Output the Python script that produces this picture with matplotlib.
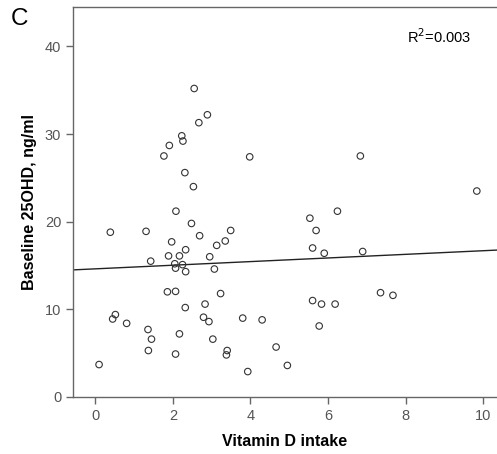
import numpy as np
import matplotlib.pyplot as plt

plt.rcParams['font.family'] = ['Liberation Sans', 'DejaVu Sans']

# Vitamin D intake vs baseline 25OHD
vit_d = [2.55, 2.89, 2.67, 2.23, 2.26, 1.91, 1.77, 3.98, 2.31, 2.53,
         6.83, 9.83,
         2.08, 2.48, 0.39, 1.31, 3.49, 2.69, 1.97, 3.35, 3.13, 2.33,
         1.89, 2.17, 2.95, 1.43, 2.05, 2.25, 2.07, 2.33, 3.07, 1.86,
         2.07, 3.23, 2.32, 2.83, 0.52, 0.45, 2.79, 2.93, 3.80, 4.30,
         0.81, 1.36, 2.17, 1.45, 3.03, 4.66, 1.37, 3.40, 3.38, 2.07,
         0.10, 3.93, 4.95,
         6.24, 5.53, 5.69, 5.60, 5.90, 6.89, 5.60, 5.83, 6.18, 7.35,
         7.67, 5.77]
ohd = [35.2, 32.2, 31.3, 29.8, 29.2, 28.7, 27.5, 27.4, 25.6, 24.0,
       27.5, 23.5,
       21.2, 19.8, 18.8, 18.9, 19.0, 18.4, 17.7, 17.8, 17.3, 16.8,
       16.1, 16.1, 16.0, 15.5, 15.2, 15.1, 14.7, 14.3, 14.6, 12.0,
       12.05, 11.8, 10.2, 10.6, 9.4, 8.9, 9.1, 8.6, 9.0, 8.8,
       8.4, 7.7, 7.2, 6.6, 6.6, 5.7, 5.3, 5.3, 4.8, 4.9,
       3.7, 2.9, 3.6,
       21.2, 20.4, 19.0, 17.0, 16.4, 16.6, 11.0, 10.6, 10.6, 11.9,
       11.6, 8.1]

# fit line as shown (intercept, slope)
fit_intercept = 14.62
fit_slope = 0.207
r2_text = 'R$^2$=0.003'

fig = plt.figure(figsize=(4.97, 4.54), dpi=100)
ax = fig.add_axes([0.147, 0.1256, 0.853, 0.859])

ax.scatter(vit_d, ohd, s=22, facecolors='none', edgecolors='#333333', linewidths=0.8, zorder=3)

xlim = (-0.57, 10.35)
xs = np.array(xlim)
ax.plot(xs, fit_intercept + fit_slope * xs, color='#222222', lw=1.0)

ax.set_xlim(*xlim)
ax.set_ylim(0, 44.5)
ax.set_xticks([0, 2, 4, 6, 8, 10])
ax.set_yticks([0, 10, 20, 30, 40])

for side in ['left', 'bottom', 'top']:
    ax.spines[side].set_color('#666666')
    ax.spines[side].set_linewidth(1.0)
ax.spines['right'].set_visible(False)
ax.tick_params(colors='#666666', labelcolor='#555555', labelsize=10.5, length=5, width=1.0)

ax.set_xlabel('Vitamin D intake', fontsize=11.5, fontweight='bold', labelpad=8)
ax.set_ylabel('Baseline 25OHD, ng/ml', fontsize=11.5, fontweight='bold', labelpad=6)

ax.text(0.94, 0.925, r2_text, transform=ax.transAxes, ha='right', va='center', fontsize=10.5)
fig.text(0.022, 0.958, 'C', fontsize=17.5, va='center', ha='left')

fig.savefig('out.png', dpi=100)
